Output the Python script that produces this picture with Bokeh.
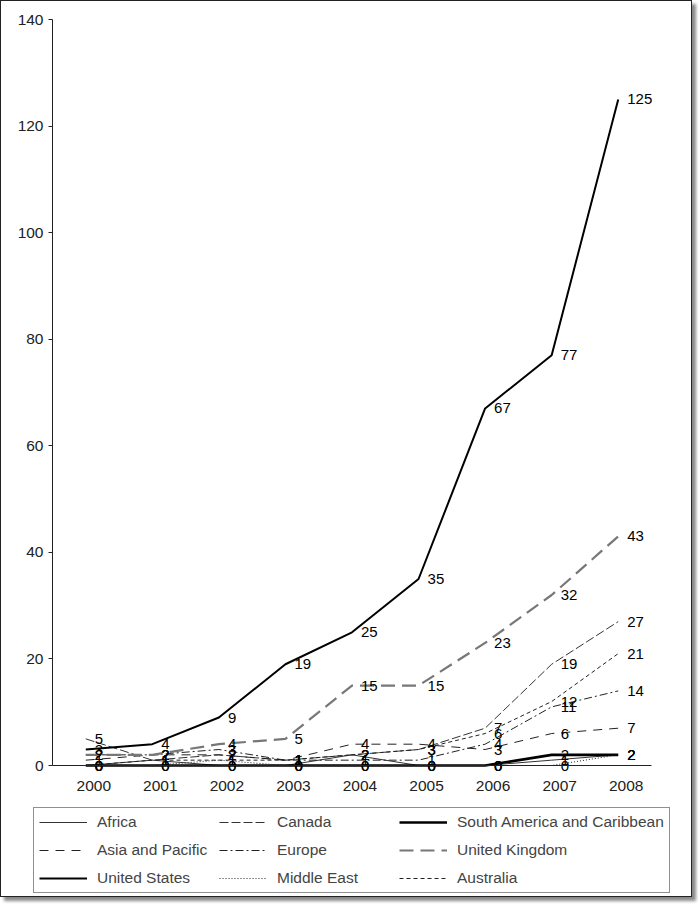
from bokeh.plotting import figure
from bokeh.models import (ColumnDataSource, Legend, LegendItem, FixedTicker,
                          Range1d, CustomJSTickFormatter)
from bokeh.layouts import column
from bokeh.embed import file_html
from bokeh.resources import INLINE

years = [2000, 2001, 2002, 2003, 2004, 2005, 2006, 2007, 2008]
tick_labels = ["2000", "2001", "2002", "2003", "2004", "2005", "2006", "2007", "2008"]
y_ticks = [0, 20, 40, 60, 80, 100, 120, 140]

africa = [0, 1, 0, 0, 2, 0, 0, 1, 2]
canada = [5, 1, 2, 1, 2, 3, 7, 19, 27]
south_america = [0, 0, 0, 0, 0, 0, 0, 2, 2]
asia_pacific = [1, 2, 2, 1, 4, 4, 3, 6, 7]
europe = [2, 2, 3, 1, 1, 1, 4, 11, 14]
united_kingdom = [2, 2, 4, 5, 15, 15, 23, 32, 43]
united_states = [3, 4, 9, 19, 25, 35, 67, 77, 125]
middle_east = [0, 0, 1, 0, 0, 0, 0, 0, 2]
australia = [0, 1, 1, 1, 2, 3, 6, 12, 21]

series = [
    ("Africa", africa, dict(line_color="#333333", line_width=1)),
    ("Canada", canada, dict(line_color="#333333", line_width=1, line_dash="9 3")),
    ("South America and Caribbean", south_america, dict(line_color="black", line_width=2.6)),
    ("Asia and Pacific", asia_pacific, dict(line_color="#222222", line_width=1, line_dash="9 7")),
    ("Europe", europe, dict(line_color="#222222", line_width=1, line_dash="8 3 2 3")),
    ("United Kingdom", united_kingdom, dict(line_color="#777777", line_width=2.2, line_dash="14 7")),
    ("United States", united_states, dict(line_color="black", line_width=2)),
    ("Middle East", middle_east, dict(line_color="#222222", line_width=1, line_dash="1 2")),
    ("Australia", australia, dict(line_color="#222222", line_width=1, line_dash="4 3")),
]

FONT = "Liberation Sans"

# layout geometry (pixels inside the figure)
W, H = 690, 895
B = 2                      # frame inset
AX_LEFT, AX_RIGHT = 51, 650   # x positions of category span 1999.5 .. 2008.5
Y_TOP, Y_ZERO = 18, 764       # pixel rows of 140 and 0
x0, x1 = years[0] - 0.5, years[-1] + 0.5
ppx = (AX_RIGHT - AX_LEFT) / (x1 - x0)
ymax = y_ticks[-1]
ppy = (Y_ZERO - Y_TOP) / ymax
x_start = x0 - (AX_LEFT - B) / ppx
x_end = x0 + (W - B - AX_LEFT) / ppx
y_start = -((H - B) - Y_ZERO) / ppy
y_end = ymax + (Y_TOP - B) / ppy

p = figure(width=W, height=H, output_backend="svg", toolbar_location=None,
           x_range=Range1d(x_start, x_end), y_range=Range1d(y_start, y_end),
           min_border_left=B, min_border_right=B, min_border_top=B,
           min_border_bottom=B)
p.outline_line_color = None
p.xgrid.visible = False
p.ygrid.visible = False

items = []
for name, vals, style in series:
    src = ColumnDataSource(dict(x=years, y=vals, t=[str(v) for v in vals]))
    r = p.line("x", "y", source=src, **style)
    p.text("x", "y", text="t", source=src, x_offset=9, text_baseline="middle",
           text_align="left", text_font_size="15px", text_font={"value": FONT},
           text_color="black")
    items.append(LegendItem(label=name, renderers=[r]))

legend = Legend(items=items, ncols=3, orientation="horizontal",
                location=(30, 1),
                label_text_font=FONT, label_text_font_size="15.5px",
                glyph_width=48, glyph_height=18, label_height=18, label_width=112,
                label_standoff=10, spacing=10, padding=5,
                border_line_color="#222", border_line_width=1,
                background_fill_color="white", background_fill_alpha=1.0)
p.add_layout(legend)

xt = [y + 0.12 for y in years]
p.xaxis.ticker = FixedTicker(ticks=xt, minor_ticks=[y - 0.5 for y in years] + [x1])
p.xaxis.major_label_overrides = {t: l for t, l in zip(xt, tick_labels)}
p.xaxis.formatter = CustomJSTickFormatter(code="return Math.round(tick).toString()")
p.xaxis.fixed_location = 0
p.xaxis.bounds = (x0, x1)
p.xaxis.major_tick_out = 0
p.xaxis.major_tick_in = 0
p.xaxis.minor_tick_out = 5
p.xaxis.minor_tick_in = 0
p.xaxis.major_label_standoff = 10

p.yaxis.ticker = FixedTicker(ticks=y_ticks)
p.yaxis.fixed_location = x0
p.yaxis.bounds = (0, ymax)
p.yaxis.major_tick_out = 4
p.yaxis.major_tick_in = 0
p.yaxis.major_label_standoff = 5

for ax in (p.xaxis, p.yaxis):
    ax.axis_line_color = "#222"
    ax.major_tick_line_color = "#222"
    ax.minor_tick_line_color = "#222" if ax is p.xaxis else None
    ax.major_label_text_font = FONT
    ax.major_label_text_font_size = "15.5px"
    ax.major_label_text_color = "#222"

layout = column(p, styles={"border": "1.5px solid #222",
                           "box-shadow": "4px 4px 3px #8a8a8a",
                           "background-color": "white"})
open("out.html", "w").write(file_html(layout, INLINE))
